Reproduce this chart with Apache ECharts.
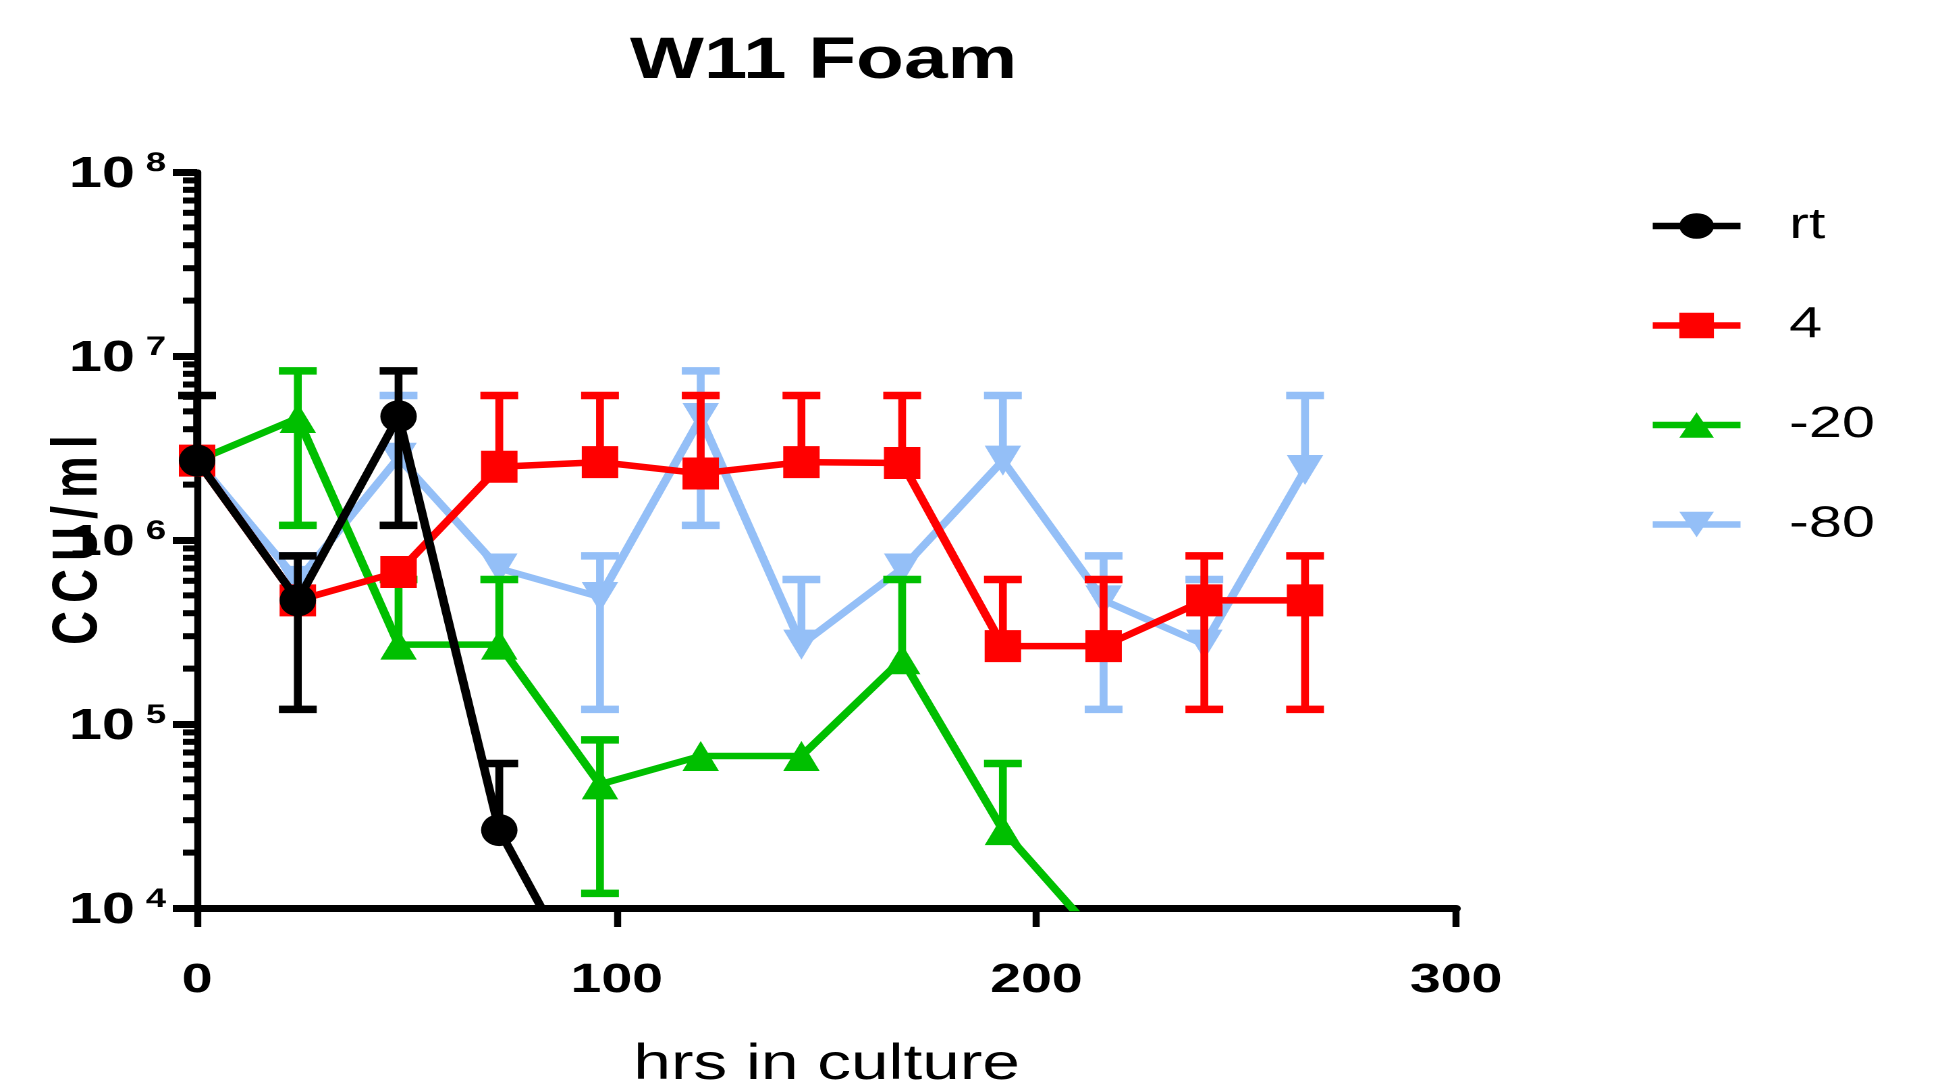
<!DOCTYPE html>
<html><head><meta charset="utf-8">
<script src="https://cdn.jsdelivr.net/npm/echarts@6/dist/echarts.min.js"></script>
<style>
html,body{margin:0;padding:0;background:#fff;overflow:hidden;width:1951px;height:1089px}
#chart{width:1445px;height:1089px;transform:scaleX(1.35);transform-origin:0 0}
</style>
</head><body><div id="chart"></div>
<script>
// ---- data (hours in culture, CCU/ml) ----
const hours = [0, 24, 48, 72, 96, 120, 144, 168, 192, 216, 240, 264];
const xTicks = [0, 100, 200, 300];
const yTicks = [1e4, 1e5, 1e6, 1e7, 1e8];
const yMinorTicks = [2e4,3e4,4e4,5e4,6e4,7e4,8e4,9e4,
                     2e5,3e5,4e5,5e5,6e5,7e5,8e5,9e5,
                     2e6,3e6,4e6,5e6,6e6,7e6,8e6,9e6,
                     2e7,3e7,4e7,5e7,6e7,7e7,8e7,9e7];
const seriesNames = ['rt', '4', '-20', '-80'];
const yName = 'CCU/ml';

const rtMean = [2.7e6, 4.7e5, 4.7e6, 2.65e4, 2.6e3];
const rtHigh = [6.1e6, 8.2e5, 8.3e6, 6.1e4, null];
const rtLow  = [null, 1.2e5, 1.2e6, null, null];

const c4Mean = [2.7e6, 4.7e5, 6.7e5, 2.5e6, 2.65e6, 2.3e6, 2.65e6, 2.62e6, 2.65e5, 2.65e5, 4.7e5, 4.7e5];
const c4High = [null, null, null, 6.1e6, 6.1e6, 6.1e6, 6.1e6, 6.1e6, 6.1e5, 6.1e5, 8.2e5, 8.2e5];
const c4Low  = [null, null, null, null, null, null, null, null, null, null, 1.2e5, 1.2e5];

const m20Mean = [2.7e6, 4.6e6, 2.7e5, 2.7e5, 4.7e4, 6.7e4, 6.7e4, 2.25e5, 2.65e4, 6.4e3];
const m20High = [null, 8.3e6, 6.1e5, 6.1e5, 8.2e4, null, null, 6.1e5, 6.1e4, null];
const m20Low  = [null, 1.2e6, null, null, 1.2e4, null, null, null, null, null];

const m80Mean = [2.7e6, 6.0e5, 2.8e6, 7.0e5, 4.9e5, 4.6e6, 2.7e5, 7.0e5, 2.7e6, 4.7e5, 2.7e5, 2.4e6];
const m80High = [null, 8.2e5, 6.1e6, null, 8.2e5, 8.3e6, 6.1e5, null, 6.1e6, 8.2e5, 6.1e5, 6.1e6];
const m80Low  = [null, null, null, null, 1.2e5, 1.2e6, null, null, null, 1.2e5, null, null];

// ---- styling ----
const FONT = "'Liberation Sans', Arial, sans-serif";
const ELLIPSE = 'path://M0,1A1,1 0 1,1 2,1A1,1 0 1,1 0,1Z';
const TRI_DOWN = 'path://M0,0L2,0L1,1.7Z';
const LW = 6.5;
const sets = [
  {name: '-80', mean: m80Mean, high: m80High, low: m80Low, color: '#94bff7', symbol: TRI_DOWN, size: [27, 30], z: 2},
  {name: '-20', mean: m20Mean, high: m20High, low: m20Low, color: '#00bf00', symbol: 'triangle', size: [27, 30], z: 3},
  {name: '4',   mean: c4Mean,  high: c4High,  low: c4Low,  color: '#ff0000', symbol: 'rect', size: [27, 32], z: 4},
  {name: 'rt',  mean: rtMean,  high: rtHigh,  low: rtLow,  color: '#000000', symbol: ELLIPSE, size: [27, 32], z: 5}
];

// letter-spaced text: one rich token per character (last one without trailing gap)
function spaced(str, style, lastStyle) {
  const chars = str.split('');
  return chars.map((c, i) => '{' + (i === chars.length - 1 ? lastStyle : style) + '|' + c + '}').join('');
}

function errRender(color) {
  return function (params, api) {
    const a = api.coord([api.value(0), api.value(1)]);
    const b = api.coord([api.value(0), api.value(2)]);
    return {type: 'group', children: [
      {type: 'line', shape: {x1: a[0], y1: a[1], x2: b[0], y2: b[1]}, style: {stroke: color, lineWidth: 5.8}},
      {type: 'line', shape: {x1: b[0] - 14, y1: b[1], x2: b[0] + 14, y2: b[1]}, style: {stroke: color, lineWidth: 7.5}}
    ]};
  };
}

const series = [];
series.push({
  type: 'custom', silent: true, clip: false, z: 1,
  data: yMinorTicks.map(v => [xTicks[0], v]),
  encode: {x: 0, y: 1},
  renderItem: function (params, api) {
    const p = api.coord([api.value(0), api.value(1)]);
    return {type: 'line', shape: {x1: p[0] - 10.5, y1: p[1], x2: p[0], y2: p[1]}, style: {stroke: '#000', lineWidth: 6}};
  }
});
sets.forEach(s => {
  const rows = [];
  s.mean.forEach((m, i) => {
    if (s.high[i] != null) rows.push([hours[i], m, s.high[i]]);
    if (s.low[i] != null) rows.push([hours[i], m, s.low[i]]);
  });
  series.push({
    type: 'custom', silent: true, clip: false, z: s.z,
    data: rows, encode: {x: 0, y: [1, 2]},
    renderItem: errRender(s.color)
  });
  series.push({
    type: 'line', name: s.name, z: s.z,
    data: s.mean.map((m, i) => [hours[i], m]),
    symbol: s.symbol, symbolSize: s.size, showSymbol: true,
    lineStyle: {color: s.color, width: LW},
    itemStyle: {color: s.color},
    emphasis: {disabled: true}, silent: true
  });
});

const nameFont = {fontFamily: FONT, fontSize: 47, fontWeight: 'bold', color: '#000'};

const chart = echarts.init(document.getElementById('chart'), null, {renderer: 'canvas', devicePixelRatio: 2});
chart.setOption({
  animation: false,
  backgroundColor: '#ffffff',
  title: {
    text: 'W11 Foam', left: 605, top: 28, textAlign: 'center',
    textStyle: {fontFamily: FONT, fontSize: 58, fontWeight: 'bold', color: '#000'}
  },
  legend: {
    data: seriesNames, orient: 'vertical', left: 1221, top: 204, padding: 0,
    itemWidth: 65, itemHeight: 32, itemGap: 55.5, selectedMode: false,
    lineStyle: {width: 6.5},
    textStyle: {fontFamily: FONT, fontSize: 44, color: '#000', padding: [0, 0, 0, 31]}
  },
  grid: {left: 146, top: 172, width: 932.6, height: 736, containLabel: false, outerBoundsMode: 'none'},
  xAxis: {
    type: 'value', min: xTicks[0], max: xTicks[xTicks.length - 1], interval: 100,
    name: 'hrs in culture', nameLocation: 'middle', nameGap: 132, nameMoveOverlap: false,
    nameTextStyle: {fontFamily: FONT, fontSize: 50, color: '#000'},
    axisLine: {show: true, onZero: false, lineStyle: {color: '#000', width: 7}},
    axisTick: {show: true, length: 19, lineStyle: {color: '#000', width: 5.2}},
    axisLabel: {fontFamily: FONT, fontSize: 41, fontWeight: 'bold', color: '#000', margin: 52},
    splitLine: {show: false}
  },
  yAxis: {
    type: 'log', logBase: 10, min: yTicks[0], max: yTicks[yTicks.length - 1],
    name: spaced(yName, 'n', 'n0'), nameLocation: 'middle', nameGap: 64, nameMoveOverlap: false,
    nameTextStyle: Object.assign({}, nameFont, {
      rich: {
        n: Object.assign({}, nameFont, {padding: [0, 8, 0, 0]}),
        n0: Object.assign({}, nameFont)
      }
    }),
    axisLine: {show: true, lineStyle: {color: '#000', width: 5.2}},
    axisTick: {show: true, length: 18, lineStyle: {color: '#000', width: 7}},
    axisLabel: {
      margin: 23,
      formatter: function (v) { return '{b|10}{e|' + Math.round(Math.log10(v)) + '}'; },
      rich: {
        b: {fontFamily: FONT, fontSize: 44, fontWeight: 'bold', color: '#000', lineHeight: 44, padding: [6, 0, 0, 0]},
        e: {fontFamily: FONT, fontSize: 27, fontWeight: 'bold', color: '#000', lineHeight: 27, verticalAlign: 'top', padding: [0, 0, 0, 8]}
      }
    },
    splitLine: {show: false}
  },
  series: series
});
</script></body></html>
